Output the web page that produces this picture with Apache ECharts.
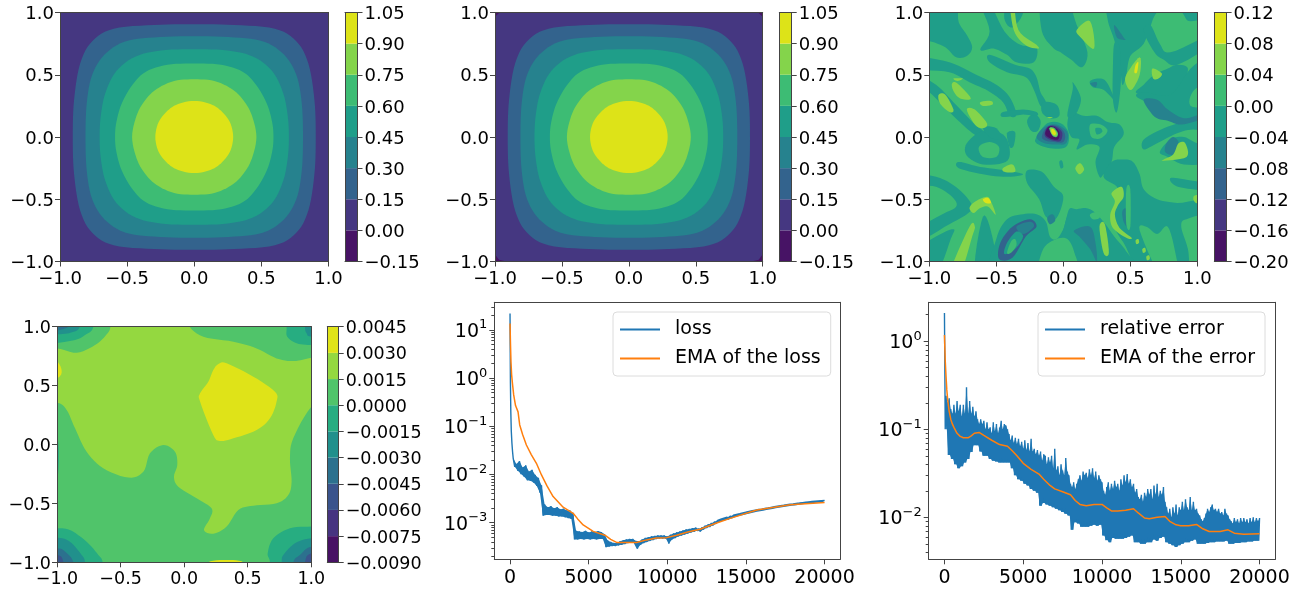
<!DOCTYPE html>
<html><head><meta charset="utf-8">
<script src="https://cdn.jsdelivr.net/npm/echarts@6/dist/echarts.min.js"></script>
<style>html,body{margin:0;padding:0;background:#fff}#c{width:1312px;height:591px;filter:blur(0.4px)}</style>
</head><body><div id="c"></div>
<script>
// ---------- colours of the filled contour bands ----------
const bands8 = ['#471365','#453781','#33638d','#26828e','#1f9e89','#3dbc74','#84d44b','#dde318'];
const bands9 = ['#471164','#463480','#3a548c','#2c718e','#21908c','#27ad81','#50c46a','#94d840','#dfe318'];

// ---------- colourbar levels ----------
const levelsA = [-0.15,0,0.15,0.30,0.45,0.60,0.75,0.90,1.05];
const levelsB = [-0.20,-0.16,-0.12,-0.08,-0.04,0,0.04,0.08,0.12];
const levelsC = [-0.009,-0.0075,-0.006,-0.0045,-0.003,-0.0015,0,0.0015,0.003,0.0045];

// ---------- contour outlines of panels 1 and 2 (one quadrant) ----------
const q150 = [[0,.905],[.3,.9],[.6,.87],[.76,.77],[.85,.59],[.895,.3],[.905,0]];
const q300 = [[0,.81],[.3,.8],[.52,.765],[.67,.66],[.76,.5],[.8,.28],[.81,0]];
const q450 = [[0,.705],[.25,.695],[.44,.645],[.58,.53],[.66,.36],[.695,.18],[.705,0]];
const q600 = [[0,.59],[.2,.58],[.36,.525],[.46,.42],[.54,.27],[.58,.12],[.59,0]];
const q750 = [[0,.463],[.15,.45],[.28,.385],[.37,.29],[.43,.17],[.463,0]];
const q900 = [[0,.29],[.12,.265],[.2,.21],[.265,.12],[.29,0]];
const p2Rim = [[-.955,1.1],[.955,1.1],[.97,.995],[.995,.97],[1.1,.955],[1.1,-.93],[.995,-.95],[.97,-.985],[.93,-.995],[.93,-1.1],[-.93,-1.1],[-.93,-.995],[-.97,-.985],[-.995,-.95],[-1.1,-.93],[-1.1,.955],[-.995,.97],[-.97,.995]];

// ---------- panel 3: contour patches by band ----------
const p3Teal = [
 [[-1.1,1.1],[-.82,1.1],[-.78,.92],[-.72,.82],[-.68,.72],[-.72,.65],[-.8,.64],[-.88,.72],[-1,.77],[-1.1,.77]],
 [[-1.1,.64],[-.85,.6],[-.65,.5],[-.5,.42],[-.4,.32],[-.35,.18],[-.4,.17],[-.45,.28],[-.56,.37],[-.7,.44],[-.85,.52],[-1.1,.55]],
 [[-1.1,.5],[-.95,.42],[-.82,.28],[-.66,.1],[-.6,.05],[-.62,0],[-.7,.05],[-.85,.2],[-1,.36],[-1.1,.42]],
 [[-.63,1.1],[-.56,1.1],[-.44,.85],[-.32,.74],[-.2,.72],[-.22,.6],[-.35,.6],[-.42,.66],[-.52,.71],[-.62,.7],[-.55,.85]],
 [[-.42,1.1],[-.36,1.1],[-.3,1],[-.38,.88],[-.44,.95]],
 [[-.16,1.1],[.02,1.1],[.1,.9],[.18,.68],[.14,.56],[.06,.62],[-.02,.68],[-.08,.72],[-.16,.85]],
 [[-.55,.66],[-.36,.58],[-.25,.55],[-.2,.48],[-.17,.36],[-.13,.28],[-.17,.25],[-.22,.38],[-.28,.48],[-.42,.52],[-.55,.6]],
 [[-.27,.13],[-.22,.19],[-.17,.13],[-.19,.05],[-.24,.05]],
 [[-.15,.28],[-.05,.26],[-.03,.17],[-.1,.15],[-.16,.2]],
 [[-.2,0],[-.12,.11],[-.02,.11],[.04,.03],[.02,-.08],[-.1,-.09],[-.2,-.05]],
 [[.03,.1],[.06,.2],[.15,.17],[.25,.17],[.33,.12],[.42,.1],[.45,.02],[.38,-.08],[.36,-.2],[.3,-.3],[.27,-.32],[.24,-.2],[.27,-.08],[.18,-.06],[.1,-.1],[.12,-.02],[.06,0]],
 [[.03,.17],[.07,.38],[.07,.44],[.12,.35],[.13,.28],[.09,.18]],
 [[.35,1.1],[.72,1.1],[.67,.95],[.6,.75],[.5,.65],[.47,.5],[.44,.42],[.42,.6],[.38,.78],[.33,.95]],
 [[.85,1.1],[1.1,1.1],[1.1,.98],[.95,.93],[.9,.98]],
 [[.65,.9],[.72,.75],[.8,.68],[1.1,.82],[1.1,.74],[.85,.58],[.75,.62],[.68,.68],[.6,.85]],
 [[.78,.55],[.85,.58],[.93,.55],[.88,.4],[.8,.33],[.55,.35],[.6,.42],[.68,.5]],
 [[.55,.32],[.6,.36],[.8,.34],[.95,.55],[1.1,.65],[1.1,.48],[.97,.37],[.95,.25],[1.1,.22],[1.1,.1],[.92,.1],[.75,.22]],
 [[.6,-.02],[.75,.07],[.92,.13],[1.1,.18],[1.1,.04],[.97,.06],[.85,.03],[.7,-.05],[.6,-.1]],
 [[.72,-.12],[.8,-.02],[.9,0],[1,-.05],[1.1,-.05],[1.1,-.2],[.9,-.22],[.78,-.16]],
 [[.3,-.32],[.36,-.2],[.45,-.18],[.52,-.2],[.57,-.3],[.6,-.42],[.7,-.5],[.85,-.53],[1.1,-.55],[1.1,-1.1],[.62,-1.1],[.45,-.85],[.38,-.72],[.37,-.6],[.42,-.5],[.4,-.4]],
 [[.8,-.33],[.9,-.34],[1.1,-.38],[1.1,-.43],[.9,-.41],[.82,-.38]],
 [[-1.1,-.3],[-.92,-.33],[-.78,-.42],[-.68,-.55],[-.72,-.62],[-.85,-.7],[-1.1,-.85],[-1.1,-.75],[-.92,-.63],[-.8,-.56],[-.83,-.48],[-.95,-.4],[-1.1,-.38]],
 [[-1.1,-1.1],[-1.1,-.92],[-.95,-.8],[-.82,-.74],[-.84,-.82],[-.95,-1.1]],
 [[-.66,-1.1],[-.6,-.64],[-.53,-.8],[-.5,-1.1]],
 [[-.72,-.05],[-.6,.05],[-.45,.02],[-.4,-.1],[-.43,-.2],[-.6,-.22],[-.72,-.15]],
 [[-.78,-.2],[-.62,-.24],[-.42,-.27],[-.3,-.3],[-.42,-.32],[-.6,-.3],[-.78,-.25]],
 [[-.6,.08],[-.5,.07],[-.46,-.02],[-.55,0]],
 [[-.42,.03],[-.36,.04],[-.37,-.07],[-.4,-.08]],
 [[-.45,.2],[-.3,.22],[-.2,.2],[-.2,.17],[-.3,.18],[-.45,.16]],
 [[-.27,-.27],[-.16,-.28],[-.07,-.4],[0,-.48],[-.05,-.65],[-.13,-.64],[-.18,-.5],[-.27,-.37]],
 [[-.52,-1.1],[-.5,-.82],[-.42,-.66],[-.3,-.62],[-.2,-.62],[-.13,-.68],[-.1,-.8],[-.05,-.82],[0,-.74],[.03,-.66],[0,-1.1]],
 [[.03,-.62],[.1,-.58],[.2,-.58],[.3,-.68],[.38,-.8],[.47,-.92],[.55,-1.1],[0,-1.1]],
 [[.2,.45],[.28,.47],[.33,.43],[.38,.3],[.3,.38],[.22,.4]],
 [[.38,.75],[.42,.72],[.43,.45],[.4,.2],[.37,.3],[.37,.55]],
 [[-.03,-.2],[-.01,-.19],[0,-.24],[-.02,-.25]]
];
const p3Green = [
 [[-.63,-.08],[-.55,-.04],[-.48,-.08],[-.5,-.16],[-.6,-.16]],
 [[.2,.1],[.28,.1],[.33,.05],[.28,-.01],[.21,0]],
 [[.57,-.75],[.62,-.72],[.7,-.78],[.78,-.72],[.84,-.95],[.85,-1.1],[.72,-1.1]],
 [[.88,-.72],[.92,-.66],[1.1,-.66],[1.1,-1.1],[.96,-1.1],[.93,-.9]],
 [[-.17,-1.1],[-.15,-.9],[-.05,-.82],[.03,-.82],[.08,-.92],[.1,-1.1]],
 [[.2,-.62],[.27,-.6],[.27,-.65],[.22,-.66]],
 [[.47,-.42],[.5,-.42],[.5,-.72],[.47,-.7]],
 [[-.42,-.93],[-.39,-.84],[-.36,-.82],[-.35,-.87],[-.39,-.93]]
];
const p3Teal2 = [
 [[.24,.07],[.28,.07],[.29,.04],[.25,.02]]
];
const p3Slate = [
 [[.6,.3],[.7,.3],[.78,.22],[.9,.15],[1.02,.18],[1.02,.14],[.88,.1],[.78,.13],[.7,.15],[.65,.2]],
 [[.93,-.72],[.98,-.7],[1.1,-.75],[1.1,-.95],[1,-.92]],
 [[-.12,-.65],[-.08,-.62],[-.06,-.67],[-.1,-.7]],
 [[.08,-.75],[.2,-.72],[.24,-.85],[.25,-1],[.2,-.9],[.12,-.8]],
 [[.2,.43],[.25,.44],[.24,.4]],
 [[.38,.9],[.45,.8],[.46,.78],[.4,.8]],
 [[.44,-.6],[.47,-.58],[.48,-.72],[.45,-.68]],
 [[.77,-.05],[.82,0],[.86,-.05],[.82,-.14],[.76,-.12]]
];
const p3Blue = [
 [[-.48,-.98],[-.47,-.85],[-.38,-.72],[-.25,-.66],[-.2,-.72],[-.28,-.8],[-.38,-.97]]
];
const p3Slate2 = [
 [[-.35,-.72],[-.25,-.68],[-.22,-.72],[-.3,-.78]]
];
const p3Teal3 = [
 [[-.44,-.94],[-.42,-.85],[-.35,-.76],[-.3,-.8],[-.36,-.9]]
];
const p3Green2 = [
 [[-.42,-.93],[-.39,-.84],[-.36,-.82],[-.35,-.87],[-.39,-.93]]
];
const p3Light = [
 [[-.85,-1.1],[-.7,-.72],[-.66,-.72],[-.68,-.8],[-.77,-1.1]],
 [[-.7,-.57],[-.66,-.52],[-.57,-.48],[-.535,-.53],[-.505,-.625],[-.56,-.56],[-.62,-.57],[-.67,-.61]],
 [[-.45,-.25],[-.38,-.22],[-.36,-.28],[-.44,-.28]],
 [[.27,-.72],[.31,-.7],[.34,-.93],[.3,-.93]],
 [[.36,-.45],[.435,-.4],[.45,-.48],[.41,-.545],[.385,-.625],[.42,-.73],[.51,-.81],[.47,-.81],[.37,-.73],[.35,-.625],[.385,-.52]],
 [[-.83,.43],[-.79,.43],[-.69,.31],[-.77,.31],[-.82,.37]],
 [[-.93,.34],[-.88,.34],[-.82,.22],[-.85,.2],[-.92,.27]],
 [[-.72,.22],[-.66,.22],[-.57,.11],[-.6,.07],[-.66,.1]],
 [[-.62,.28],[-.54,.29],[-.53,.26],[-.6,.25]],
 [[-.82,.47],[-.75,.47],[-.79,.45]],
 [[-.4,1.1],[-.37,1.1],[-.335,.86],[-.2,.74],[-.19,.71],[-.285,.74],[-.37,.86]],
 [[.1,.86],[.2,.93],[.23,.71],[.13,.8]],
 [[.47,.5],[.57,.64],[.57,.5],[.51,.38],[.47,.42]],
 [[.665,.55],[.735,.51],[.71,.47],[.67,.47]],
 [[.75,-.19],[.92,-.16],[.91,-.05],[.86,-.05],[.82,-.14],[.75,-.18]],
 [[.98,-.47],[1.1,-.47],[1.1,-.53],[.99,-.53]],
 [[.09,-.25],[.125,-.21],[.155,-.26],[.12,-.3]],
 [[-.12,.16],[-.08,.16],[-.1,.15]],
 [[.54,-.83],[.56,-.82],[.565,-.85],[.545,-.86]],
 [[.59,-.9],[.61,-.89],[.615,-.92],[.595,-.93]],
 [[.62,-.96],[.64,-.95],[.645,-.98],[.625,-.99]]
];
const p3Yellow = [
 [[-.6,-.5],[-.56,-.49],[-.54,-.53],[-.58,-.53]],
 [[.54,.58],[.56,.6],[.55,.52],[.53,.52]]
];
// hot spot near the origin, outermost first: [band, outline]
const p3Spot = [
 [3,[[-.2,0],[-.14,.08],[-.05,.1],[.03,.04],[.02,-.05],[-.05,-.06],[-.14,-.05]]],
 [2,[[-.16,0],[-.13,.07],[-.05,.09],[.01,.03],[0,-.04],[-.07,-.04],[-.13,-.03]]],
 [1,[[-.14,.02],[-.12,.08],[-.07,.09],[-.01,.04],[-.02,-.03],[-.07,-.03],[-.12,-.01]]],
 [0,[[-.135,.03],[-.11,.08],[-.07,.08],[-.03,.04],[-.035,-.015],[-.07,-.02],[-.115,0]]],
 [5,[[-.105,.07],[-.07,.075],[-.04,.03],[-.05,0],[-.08,.01]]],
 [6,[[-.1,.07],[-.075,.07],[-.045,.03],[-.055,.005],[-.085,.02]]],
 [7,[[-.09,.06],[-.07,.06],[-.055,.03],[-.065,.015],[-.085,.03]]]
];

// ---------- panel 4: contour patches ----------
const p4Mid = [
 [[-1.2,.355],[-1,.355],[-.924,.293],[-.858,.137],[-.767,-.061],[-.636,-.202],[-.439,-.281],[-.321,-.231],[-.269,-.075],[-.164,-.004],[-.072,-.061],[-.054,-.174],[-.08,-.273],[-.046,-.358],[.098,-.457],[.216,-.542],[.203,-.627],[.156,-.726],[.229,-.757],[.334,-.697],[.426,-.556],[.544,-.519],[.727,-.499],[.819,-.429],[.845,-.315],[.832,-.117],[.858,.052],[1,.321],[1.2,.5],[1.3,-1.3],[-1.3,-1.3]],
 [[-1.2,.82],[-1,.816],[-.845,.779],[-.701,.844],[-.609,.935],[-.578,1.01],[-.57,1.2],[-1.2,1.2]],
 [[.033,1.02],[.151,.915],[.387,.873],[.57,.816],[.727,.731],[.858,.708],[1,.737],[1.2,.78],[1.2,1.2],[.02,1.2]]
];
const p4Band5 = [
 [[-1.2,.878],[-.898,.878],[-.77,.935],[-.714,1],[-.7,1.2],[-1.2,1.2]],
 [[.806,1.2],[.806,1],[.811,.915],[.885,.859],[1,.844],[1.2,.84],[1.2,1.2]],
 [[-1.2,-.711],[-1,-.711],[-.898,-.726],[-.767,-.825],[-.675,-.938],[-.641,-1],[-.63,-1.2],[-1.2,-1.2]],
 [[1.2,-.697],[1,-.697],[.832,-.711],[.701,-.796],[.657,-.924],[.675,-1],[.68,-1.2],[1.2,-1.2]],
 [[-1.05,.08],[-1,.08],[-.985,-.1],[-1,-.3],[-1.05,-.3]]
];
const p4Band4 = [
 [[-1.2,.935],[-1,.935],[-.89,.95],[-.82,1],[-.8,1.2],[-1.2,1.2]],
 [[.95,1.2],[.95,1],[.963,.944],[1,.915],[1.2,.91],[1.2,1.2]],
 [[-1.2,-.79],[-1,-.79],[-.898,-.825],[-.806,-.938],[-.78,-1],[-.77,-1.2],[-1.2,-1.2]],
 [[1.2,-.796],[1,-.796],[.871,-.839],[.78,-.938],[.767,-1],[.76,-1.2],[1.2,-1.2]]
];
const p4Band3 = [
 [[-1.2,.97],[-.95,.98],[-.84,1.1],[-1.2,1.2]],
 [[-1.2,-.881],[-1,-.881],[-.937,-.909],[-.871,-1],[-.86,-1.2],[-1.2,-1.2]],
 [[1.2,-.867],[1,-.867],[.911,-.938],[.858,-1],[.85,-1.2],[1.2,-1.2]]
];
const p4Band2 = [
 [[-1.2,-.938],[-1,-.938],[-.95,-1],[-.94,-1.2],[-1.2,-1.2]],
 [[1.2,-.924],[1,-.924],[.95,-1],[.94,-1.2],[1.2,-1.2]]
];
const p4Top = [
 [[.269,.683],[.334,.689],[.544,.576],[.714,.448],[.727,.364],[.675,.222],[.57,.123],[.387,.052],[.282,.03],[.229,.081],[.125,.364],[.125,.434],[.19,.533],[.229,.632]],
 [[-1.1,.703],[-1,.703],[-.963,.618],[-1,.562],[-1.1,.562]],
 [[.19,-1],[.334,-.98],[.465,-1],[.465,-1.1],[.19,-1.1]]
];

// ---------- panel 5: loss ----------
const lossStart = [[0,22],[10,5],[25,.8],[50,.2],[80,.08],[120,.045],[160,.03]];
const lossStep = 200;
const lossHi = [.022,.0165,.019,.014,.0155,.0115,.0125,.0098,.0085,.006,
 .0024,.0021,.0022,.002,.0021,.0019,.00195,.0018,.0018,.0016,
 .00068,.00066,.00064,.00068,.00063,.00066,.00064,.00067,.00064,.00058,
 .00043,.0004,.00038,.00038,.00041,.00043,.00045,.00046,.00046,.00042,
 .00041,.00045,.00048,.0005,.00052,.00053,.00054,.00054,.00054,.00052,
 .00056,.0006,.00063,.00066,.00069,.00072,.00074,.00077,.00079,.00075,
 .0008,.00086,.00092,.00098,.00105,.00112,.00118,.00124,.0013,.00138,
 .00143,.00149,.00154,.0016,.00166,.00172,.00178,.00183,.00188,.00191,
 .00197,.00202,.00208,.00214,.0022,.00225,.0023,.00236,.00241,.00246,
 .00252,.00256,.00261,.00266,.00271,.00275,.00279,.00283,.00287,.0029];
const lossLo = [.0145,.012,.0102,.009,.0076,.0074,.0068,.0058,.0042,.0014,
 .00145,.00145,.0014,.0014,.00135,.00135,.0013,.00125,.0012,.00045,
 .00045,.00046,.00045,.00046,.00045,.00046,.00045,.00046,.00046,.00031,
 .00032,.00033,.00033,.00034,.00035,.00036,.00038,.00039,.00039,.00029,
 .00035,.00038,.0004,.00042,.00044,.00046,.00047,.00047,.00047,.00037,
 .00045,.00048,.00052,.00054,.00057,.0006,.00063,.00065,.00068,.00066,
 .00072,.00078,.00082,.00088,.00095,.00102,.00108,.00113,.00118,.00125,
 .0013,.00136,.00141,.00146,.00152,.00158,.00163,.00168,.00173,.00177,
 .00183,.00188,.00193,.00199,.00204,.00209,.00214,.00219,.00224,.00229,
 .00234,.00239,.00244,.00248,.00252,.00256,.0026,.00264,.00268,.00272];
const lossEma = [[0,13.7],[30,5],[60,2.2],[100,1.2],[150,.8],[233,.45],[350,.27],[510,.2],[616,.107],[800,.068],[1040,.041],[1350,.026],[1677,.0171],[2000,.0098],[2350,.0058],[2740,.0035],[3376,.0021],[4013,.00157],[4300,.0012],[4650,.0009],[5287,.00066],[6030,.00055],[6400,.00045],[6773,.00039],[7400,.00039],[8047,.00039],[8684,.00044],[9300,.00048],[9958,.00049],[10595,.00055],[11300,.00064],[12080,.00073],[13000,.00095],[13992,.00123],[15690,.00184],[17813,.00237],[20000,.00263]];

// ---------- panel 6: relative error ----------
const errStep = 100;
const errHi = [2.1,.24,.2,.225,.17,.15,.19,.15,.21,.16,
 .19,.14,.19,.15,.3,.15,.21,.15,.18,.14,
 .16,.13,.115,.13,.115,.125,.1,.12,.1,.105,
 .09,.12,.095,.115,.09,.105,.125,.1,.115,.11,
 .1,.088,.075,.085,.07,.08,.068,.078,.064,.072,
 .06,.075,.058,.07,.056,.078,.056,.06,.052,.058,
 .05,.056,.044,.052,.05,.04,.048,.042,.05,.036,
 .06,.034,.038,.03,.04,.034,.03,.047,.033,.03,
 .024,.022,.025,.021,.024,.027,.03,.026,.033,.03,
 .032,.028,.035,.03,.036,.028,.033,.026,.03,.027,
 .025,.02,.018,.022,.025,.02,.024,.021,.026,.022,
 .024,.02,.027,.023,.03,.025,.031,.024,.027,.022,
 .024,.019,.021,.017,.016,.018,.015,.019,.017,.021,
 .018,.021,.016,.023,.018,.024,.017,.02,.018,.022,
 .015,.013,.011,.0125,.01,.013,.011,.014,.0105,.013,
 .012,.015,.012,.016,.013,.012,.017,.012,.015,.012,
 .0125,.011,.0105,.0095,.009,.0098,.011,.0125,.0115,.013,
 .014,.012,.0125,.0115,.0125,.011,.0115,.0105,.0125,.011,
 .0105,.0095,.009,.0085,.0098,.0088,.0095,.0085,.0098,.0088,
 .0098,.0088,.0095,.0085,.0098,.0088,.01,.0088,.0098,.009,.0098];
const errLo = [.1,.051,.046,.04,.036,.038,.042,.046,.055,.066,
 .066,.056,.05,.05,.046,.044,.043,.042,.042,.042,
 .042,.036,.03,.027,.026,.024,.023,.021,.02,.019,
 .0135,.0145,.014,.0135,.013,.0125,.012,.0115,.011,.0105,
 .0072,.0088,.0085,.0078,.0078,.0078,.008,.0082,.008,.0082,
 .0062,.0055,.0052,.0058,.0057,.0057,.0057,.0058,.006,.0062,
 .0052,.0052,.005,.005,.0052,.0052,.0056,.0054,.0058,.006,
 .0052,.005,.0048,.0046,.0048,.005,.0052,.0052,.0054,.0056,
 .005,.005,.005,.0051,.0052,.0052,.0053,.0053,.0053,.0054,
 .005,.005,.0051,.0051,.0052,.0052,.0053,.0053,.0054,.0054,.0055];
const errEma = [[0,1.18],[20,.9],[50,.6],[100,.4],[150,.28],[200,.22],[300,.16],[400,.13],[500,.115],[600,.105],[800,.09],[1000,.083],[1200,.08],[1500,.08],[1700,.084],[1900,.09],[2000,.094],[2200,.092],[2500,.085],[3000,.075],[3500,.067],[4000,.064],[4300,.057],[4600,.05],[5000,.041],[5500,.035],[6000,.031],[6300,.027],[6700,.023],[7000,.021],[7500,.0195],[8000,.018],[8300,.0155],[8600,.014],[9000,.0135],[9500,.014],[10000,.014],[10300,.0128],[10600,.0118],[11000,.0118],[11500,.012],[12000,.0125],[12300,.0112],[12700,.0098],[13000,.0096],[13500,.01],[14000,.0102],[14300,.009],[14700,.0082],[15000,.008],[15500,.008],[16000,.0083],[16400,.0074],[16800,.0069],[17500,.0069],[18000,.0072],[18400,.0066],[19000,.0064],[20000,.0065]];

// ---------- tick values ----------
const stepTicks = [0,5000,10000,15000,20000];
const lossDecades = [1e-3,1e-2,1e-1,1,10];
const errDecades = [1e-2,1e-1,1];
const minorMultiples = [2,3,4,5,6,7,8,9];

// ---------- building ----------
const FONT = 'DejaVu Sans', INK = '#000', LINE = '#444';
const BLUE = '#1f77b4', ORANGE = '#ff7f0e';
const ring = q => {
  const r = q.concat(q.slice(0,-1).reverse().map(p=>[p[0],-p[1]]));
  return r.concat(r.slice(1,-1).reverse().map(p=>[-p[0],p[1]]));
};
// rounds a typed outline into a closed curve through its vertices (pixels in, pixels out)
const rounded = pts => {
  const n = pts.length, out = [];
  for(let i=0;i<n;i++){
    const a=pts[(i-1+n)%n], b=pts[i], c=pts[(i+1)%n], d=pts[(i+2)%n];
    for(let k=0;k<6;k++){
      const t=k/6, t2=t*t, t3=t2*t;
      out.push([0,1].map(j=>0.5*(2*b[j]+(c[j]-a[j])*t+(2*a[j]-5*b[j]+4*c[j]-d[j])*t2+(3*b[j]-a[j]-3*c[j]+d[j])*t3)));
    }
  }
  return out;
};
const tag = (band, list) => list.map(pts => ({band, pts}));
const square = [[-1.2,-1.2],[1.2,-1.2],[1.2,1.2],[-1.2,1.2]];

const rings = [[2,q150],[3,q300],[4,q450],[5,q600],[6,q750],[7,q900]].map(([b,q])=>({band:b,pts:ring(q)}));
const polysA = [{band:1,pts:square,sharp:true}, ...rings];
const polysB = [{band:0,pts:square,sharp:true},{band:1,pts:p2Rim,sharp:true}, ...rings];
const polysC = [{band:5,pts:square,sharp:true}, ...tag(4,p3Teal), ...tag(3,p3Slate), ...tag(5,p3Green), ...tag(4,p3Teal2), ...tag(2,p3Blue), ...tag(3,p3Slate2), ...tag(4,p3Teal3), ...tag(5,p3Green2), ...tag(6,p3Light), ...tag(7,p3Yellow), ...p3Spot.map(([b,p])=>({band:b,pts:p}))];
const polysD = [{band:7,pts:square,sharp:true}, ...tag(6,p4Mid), ...tag(5,p4Band5), ...tag(4,p4Band4), ...tag(3,p4Band3), ...tag(2,p4Band2), ...tag(8,p4Top)];

const lossLine = lossStart.slice(), lossUpper = [], lossLower = [];
lossHi.forEach((h,i)=>{
  const x = lossStep*(i+1);
  lossLine.push([x,h]); lossUpper.push([x,h]);
  if(i<lossHi.length-1){ lossLine.push([x+lossStep/2,lossLo[i]]); lossLower.push([x+lossStep/2,lossLo[i]]); }
});
const errLine = [], errUpper = [], errLower = [];
errHi.forEach((h,i)=>{
  const x = errStep*i;
  errLine.push([x,h]);
  if(i>0) errUpper.push([x,h]);
  if(i<errHi.length-1){ const q=[x+errStep/2,errLo[Math.floor(i/2)]]; errLine.push(q); if(i>0) errLower.push(q); }
});

const grids=[], xAxes=[], yAxes=[], series=[], legends=[];
const minus = s => s.replace('-','\u2212');
function addGrid(l,t,w,h){ grids.push({left:l,top:t,width:w,height:h,show:false,outerBoundsMode:'none'}); return grids.length-1; }
function xAxis(g, o){ xAxes.push(Object.assign({gridIndex:g,z:10,animation:false},o)); return xAxes.length-1; }
function yAxis(g, o){ yAxes.push(Object.assign({gridIndex:g,z:10,animation:false},o)); return yAxes.length-1; }
const lineOn = {show:true,onZero:false,lineStyle:{color:LINE,width:1}};
const lineOff = {show:false,onZero:false};
const tick5 = {show:true,length:5,lineStyle:{color:LINE,width:1}};
const noSplit = {show:false};
const lowered = fs => ({a:{fontFamily:FONT,fontSize:fs,color:INK,padding:[4,0,0,0]}});

function contourPanel(l,t,w,h,polys,colors,fs,xm){
  const g = addGrid(l,t,w,h);
  const lab = {show:true,fontFamily:FONT,fontSize:fs,color:INK,hideOverlap:false,showMinLabel:true,showMaxLabel:true};
  const xi = xAxis(g,{type:'value',min:-1,max:1,interval:0.5,position:'bottom',axisLine:lineOn,axisTick:tick5,axisLabel:Object.assign({margin:xm,formatter:v=>minus(v.toFixed(1))},lab),splitLine:noSplit});
  const yi = yAxis(g,{type:'value',min:-1,max:1,interval:0.5,position:'left',axisLine:lineOn,axisTick:tick5,axisLabel:Object.assign({margin:6,rich:lowered(fs),formatter:v=>'{a|'+minus(v.toFixed(1))+'}'},lab),splitLine:noSplit});
  xAxis(g,{type:'value',min:-1,max:1,position:'top',axisLine:lineOn,axisTick:{show:false},axisLabel:{show:false},splitLine:noSplit});
  yAxis(g,{type:'value',min:-1,max:1,position:'right',axisLine:lineOn,axisTick:{show:false},axisLabel:{show:false},splitLine:noSplit});
  series.push({type:'custom',xAxisIndex:xi,yAxisIndex:yi,clip:true,silent:true,animation:false,progressive:0,
    data:polys.map(()=>[0,0]),
    renderItem:(p,api)=>{
      const it = polys[p.dataIndex];
      const px = it.pts.map(c=>api.coord(c));
      return {type:'polygon',shape:{points:it.sharp?px:rounded(px)},style:{fill:colors[it.band]}};
    }});
}
function colorbar(l,t,w,h,levels,colors,fs,digits){
  const g = addGrid(l,t,w,h);
  const xi = xAxis(g,{type:'value',min:0,max:1,show:false,splitLine:noSplit});
  const lo = levels[0], hi = levels[levels.length-1];
  const yi = yAxis(g,{type:'value',position:'right',min:lo,max:hi,
    axisLine:lineOn,axisTick:Object.assign({customValues:levels},tick5),splitLine:noSplit,
    axisLabel:{show:true,margin:7,customValues:levels,rich:lowered(fs),fontFamily:FONT,fontSize:fs,color:INK,hideOverlap:false,formatter:v=>'{a|'+minus(v.toFixed(digits))+'}'}});
  yAxis(g,{type:'value',position:'left',min:lo,max:hi,axisLine:lineOn,axisTick:{show:false},axisLabel:{show:false},splitLine:noSplit});
  xAxis(g,{type:'value',min:0,max:1,position:'top',axisLine:lineOn,axisTick:{show:false},axisLabel:{show:false},splitLine:noSplit});
  xAxis(g,{type:'value',min:0,max:1,position:'bottom',axisLine:lineOn,axisTick:{show:false},axisLabel:{show:false},splitLine:noSplit});
  const data = colors.map((c,i)=>[levels[i],levels[i+1]]);
  series.push({type:'custom',xAxisIndex:xi,yAxisIndex:yi,silent:true,animation:false,progressive:0,data,
    renderItem:(p,api)=>{
      const a = api.coord([0,api.value(0)]), b = api.coord([1,api.value(1)]);
      return {type:'rect',shape:{x:a[0],y:b[1],width:b[0]-a[0],height:a[1]-b[1]},style:{fill:colors[p.dataIndex]}};
    }});
}
function logPanel(l,t,w,h,ymin,ymax,decades,blueName,blueData,upper,lower,orangeName,orangeData,legendPos){
  const g = addGrid(l,t,w,h);
  const fs = 19;
  const xi = xAxis(g,{type:'value',min:-1000,max:21000,position:'bottom',axisLine:lineOn,axisTick:Object.assign({customValues:stepTicks},tick5),
    axisLabel:{show:true,margin:9,fontFamily:FONT,fontSize:fs,color:INK,customValues:stepTicks,formatter:v=>String(v)},splitLine:noSplit});
  const minors=[];
  for(let e=-5;e<=2;e++) minorMultiples.forEach(m=>{const v=m*Math.pow(10,e); if(v>ymin&&v<ymax) minors.push(v);});
  const yi = yAxis(g,{type:'log',logBase:10,min:ymin,max:ymax,position:'left',axisLine:lineOn,
    axisTick:Object.assign({customValues:decades},tick5),splitLine:noSplit,
    axisLabel:{show:true,margin:7,customValues:decades,fontFamily:FONT,color:INK,
      formatter:v=>{const e=Math.round(Math.log10(v));return '{b|10}{s|'+minus(String(e))+'}';},
      rich:{b:{fontFamily:FONT,fontSize:fs,color:INK,padding:[4,0,0,0]},s:{fontFamily:FONT,fontSize:13,color:INK,verticalAlign:'top',padding:[0,0,6,0]}}}});
  yAxis(g,{type:'log',logBase:10,min:ymin,max:ymax,position:'left',axisLine:lineOff,axisLabel:{show:false},splitLine:noSplit,
    axisTick:{show:true,length:3,customValues:minors,lineStyle:{color:LINE,width:1}}});
  yAxis(g,{type:'log',logBase:10,min:ymin,max:ymax,position:'right',axisLine:lineOn,axisTick:{show:false},axisLabel:{show:false},splitLine:noSplit});
  xAxis(g,{type:'value',min:-1000,max:21000,position:'top',axisLine:lineOn,axisTick:{show:false},axisLabel:{show:false},splitLine:noSplit});
  // solid body of the noisy curve: the area between its upper and lower envelopes
  const outline = upper.concat(lower.slice().reverse());
  series.push({type:'custom',xAxisIndex:xi,yAxisIndex:yi,clip:true,silent:true,animation:false,z:1,data:[[upper[0][0],upper[0][1]]],
    renderItem:(p,api)=>({type:'polygon',shape:{points:outline.map(c=>api.coord(c))},style:{fill:BLUE}})});
  series.push({type:'line',name:blueName,xAxisIndex:xi,yAxisIndex:yi,data:blueData,showSymbol:false,symbol:'none',animation:false,silent:true,lineStyle:{color:BLUE,width:1.4,join:'bevel'},itemStyle:{color:BLUE},clip:true});
  series.push({type:'line',name:orangeName,xAxisIndex:xi,yAxisIndex:yi,data:orangeData,showSymbol:false,symbol:'none',animation:false,silent:true,lineStyle:{color:ORANGE,width:1.5},itemStyle:{color:ORANGE},clip:true});
  legends.push({show:true,orient:'vertical',left:legendPos[0],top:legendPos[1],data:[blueName,orangeName],selectedMode:false,
    itemWidth:40,itemHeight:2,itemGap:10,icon:'rect',padding:[8,10,8,7],borderColor:'#dcdcdc',borderWidth:1,borderRadius:4,backgroundColor:'#fff',z:20,
    textStyle:{fontFamily:FONT,fontSize:fs,color:INK,lineHeight:19,padding:[0,0,0,10]}});
}

contourPanel(60,12.5,268.5,249,polysA,bands8,18,9);
colorbar(345,12.5,12.5,249,levelsA,bands8,18,2);
contourPanel(495,12.5,267.7,249,polysB,bands8,18,9);
colorbar(779.3,12.5,12.4,249,levelsA,bands8,18,2);
contourPanel(929.3,12.5,268,249,polysC,bands8,18,9);
colorbar(1214.3,12.5,12.3,249,levelsB,bands8,18,2);
contourPanel(57,326.7,254.3,235.6,polysD,bands9,17.5,8);
colorbar(327.3,326.7,11.4,235.6,levelsC,bands9,17.5,4);
logPanel(494.3,302.3,346,257,1.74e-4,37.6,lossDecades,'loss',lossLine,lossUpper,lossLower,'EMA of the loss',lossEma,[613,312]);
logPanel(928.7,302.3,346.6,257,3.33e-3,2.77,errDecades,'relative error',errLine,errUpper,errLower,'EMA of the error',errEma,[1038,312]);

const chart = echarts.init(document.getElementById('c'),null,{renderer:'canvas'});
chart.setOption({animation:false,backgroundColor:'#fff',grid:grids,xAxis:xAxes,yAxis:yAxes,series,legend:legends,tooltip:{show:false}});
</script></body></html>
